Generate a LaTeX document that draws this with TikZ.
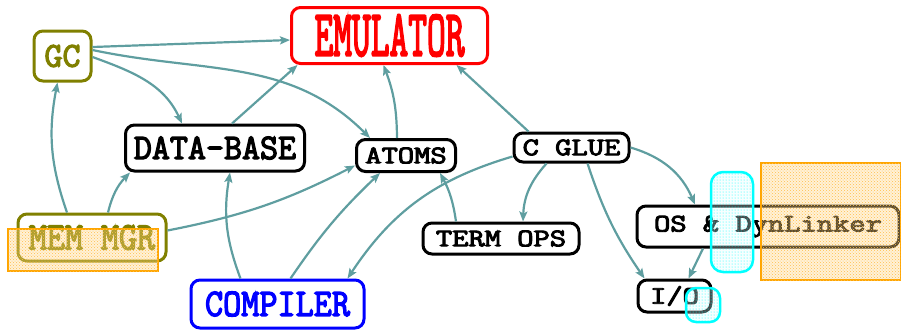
\documentclass[tikz,border=0pt]{standalone}
\usepackage{fontspec}
\usepackage{graphicx}
\usetikzlibrary{arrows.meta,patterns}

\newfontfamily\heavytt{Latin Modern Mono}[FakeBold=3.5]

\definecolor{linkteal}{RGB}{95,158,160}
\definecolor{oliveish}{RGB}{128,128,0}
\definecolor{markorange}{RGB}{255,165,0}
\definecolor{markcyan}{RGB}{0,255,255}

% typewriter label, size and vertical stretch
\newcommand{\ttlabel}[3]{{\heavytt\fontsize{#1}{#1}\selectfont\scalebox{1}[#2]{#3}}}

\begin{document}
\begin{tikzpicture}[x=1pt,y=-1pt,>={Stealth[length=10pt,width=8pt,inset=2pt]},
	box/.style={draw,line width=3pt,rounded corners=9pt,inner sep=0pt},
	link/.style={->,draw=linkteal,line width=2.2pt},
	hatchbox/.style={draw=markorange,line width=2pt,fill=markorange!45,fill opacity=0.35},
	lensbox/.style={draw=markcyan,line width=2.5pt,fill=markcyan!10,fill opacity=0.3}]
		%\draw [help lines] (0,0) grid (901,333);
		\useasboundingbox (0,0) rectangle (901,333);

		% modules
		\node [box,oliveish,minimum width=57pt,minimum height=50pt] (gc) at (62.5,56) {\ttlabel{35}{1.0}{GC}};
		\node [box,red,minimum width=196pt,minimum height=56pt] (emu) at (389.5,35.5) {\ttlabel{36.4}{1.8}{EMULATOR}};
		\node [box,minimum width=179pt,minimum height=46pt] (db) at (215,148) {\ttlabel{35}{1.03}{DATA-BASE}};
		\node [box,minimum width=99pt,minimum height=32pt] (atoms) at (406,155.5) {\ttlabel{31.6}{0.8}{ATOMS}};
		\node [box,minimum width=115pt,minimum height=29pt] (cglue) at (571.5,147.5) {\ttlabel{31.6}{0.8}{C GLUE}};
		\node [box,minimum width=156pt,minimum height=31pt] (term) at (501,238.5) {\ttlabel{31.6}{0.8}{TERM OPS}};
		\node [box,minimum width=262pt,minimum height=41pt] (os) at (768,226.5) {\ttlabel{31.6}{0.8}{OS \& DynLinker}};
		\node [box,minimum width=73pt,minimum height=32pt] (io) at (674.5,296) {\ttlabel{31.6}{0.8}{I/O}};
		\node [box,oliveish,minimum width=148pt,minimum height=47pt] (mem) at (92,237.5) {\ttlabel{35}{1.12}{MEM MGR}};
		\node [box,blue,minimum width=173pt,minimum height=48pt] (comp) at (277.5,304) {\ttlabel{35.2}{1.11}{COMPILER}};

		% dependencies
		\draw [link] ([yshift=9pt]gc.east) -- ([yshift=-4.5pt]emu.west);
		\draw [link] ([yshift=-1pt]gc.east) to [out=-20, in=115] ([xshift=-33pt]db.north);
		\draw [link] ([yshift=6pt]gc.east) to [out=-12, in=135] ([xshift=-36pt]atoms.north);
		\draw [link] ([xshift=17pt]db.north) -- ([xshift=-92pt]emu.south);
		\draw [link] ([xshift=-9pt]atoms.north) to [bend right=10] ([xshift=-6pt]emu.south);
		\draw [link] ([xshift=-43pt]cglue.north) -- ([xshift=67pt]emu.south);
		\draw [link] ([xshift=-25pt]mem.north) to [bend left=15] ([xshift=-5pt]gc.south);
		\draw [link] ([xshift=16pt]mem.north) to [bend left=15] ([xshift=-85pt]db.south);
		\draw [link] ([yshift=7pt]mem.east) to [bend right=8] ([yshift=-10pt]atoms.west);
		\draw [link] ([xshift=-37pt]comp.north) to [bend left=15] ([xshift=15pt]db.south);
		\draw [link] ([xshift=13pt]comp.north) to [bend left=6] ([xshift=-26pt]atoms.south);
		\draw [link] ([yshift=-9pt]cglue.west) to [bend right=20] ([xshift=70pt]comp.north);
		\draw [link] ([xshift=-45pt]term.north) to [bend right=10] ([xshift=34pt]atoms.south);
		\draw [link] ([xshift=-25pt]cglue.south) to [bend right=20] ([xshift=22pt]term.north);
		\draw [link] (cglue.east) to [bend left=25] ([xshift=-73pt]os.north);
		\draw [link] ([xshift=16pt]cglue.south) to [bend right=8] ([xshift=-30pt]io.north);
		\draw [link] ([xshift=-65pt]os.south) -- ([xshift=14pt]io.north);

		% highlights on top
		\draw [hatchbox] (8,229) rectangle (158,271);
		\fill [pattern=crosshatch dots,pattern color=markorange!70] (8,229) rectangle (158,271);
		\draw [hatchbox] (761,163) rectangle (901,280);
		\fill [pattern=crosshatch dots,pattern color=markorange!70] (761,163) rectangle (901,280);
		\draw [lensbox,rounded corners=12pt] (711,172) rectangle (753,272);
		\fill [pattern=dots,pattern color=markcyan,rounded corners=12pt] (711,172) rectangle (753,272);
		\draw [lensbox,rounded corners=10pt] (686,288) rectangle (720,322);
		\fill [pattern=dots,pattern color=markcyan,rounded corners=10pt] (686,288) rectangle (720,322);
\end{tikzpicture}
\end{document}
